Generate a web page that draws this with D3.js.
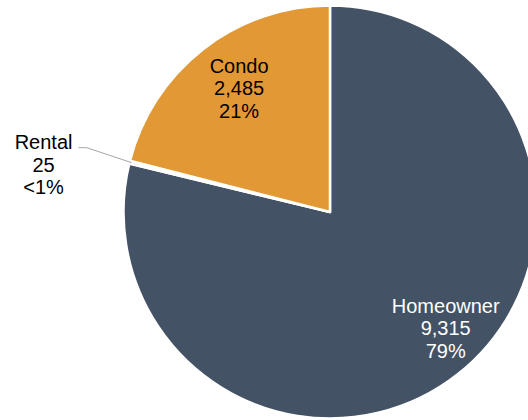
<!DOCTYPE html>
<html>
<head>
<meta charset="utf-8">
<script src="https://cdn.jsdelivr.net/npm/d3@7.9.0/dist/d3.min.js"></script>
<style>
  body { margin: 0; background: #fff; }
  svg { display: block; font-family: "Liberation Sans", Arial, sans-serif; }
</style>
</head>
<body>
<svg id="chart" width="528" height="420"></svg>
<script>
// data
const categories = ["Homeowner", "Rental", "Condo"];
const counts = [9315, 25, 2485];
const pctLabels = ["79%", "<1%", "21%"];
const colors = ["#435265", "#a5a5a5", "#e29935"];
const textColors = ["#ffffff", "#000000", "#000000"];

const data = categories.map((c, i) => ({ label: c, value: counts[i], pct: pctLabels[i] }));

const W = 528, H = 420;
const cx = 330, cy = 212, R = 206.5;

const svg = d3.select("#chart");
const g = svg.append("g").attr("transform", `translate(${cx},${cy})`);

const pie = d3.pie().sort(null).value(d => d.value);
const arcs = pie(data);

const arcGen = d3.arc().innerRadius(0).outerRadius(R);
const labelArc = d3.arc().innerRadius(158).outerRadius(158);
const edgeArc = d3.arc().innerRadius(R - 2).outerRadius(R - 2);

g.selectAll("path.slice")
  .data(arcs)
  .join("path")
  .attr("class", "slice")
  .attr("d", arcGen)
  .attr("fill", (d, i) => colors[i])
  .attr("stroke", "#fff")
  .attr("stroke-width", 2.5)
  .attr("stroke-linejoin", "round");

// label nudges (layout only)
const nudge = { Homeowner: [18, -1], Condo: [6, 8] };
const fmt = d3.format(",");
const lineH = 22.5;

function drawLabel(x, y, d, i) {
  const t = g.append("text")
    .attr("text-anchor", "middle")
    .attr("font-size", 20)
    .attr("fill", textColors[i]);
  [d.data.label, fmt(d.data.value), d.data.pct].forEach((s, k) => {
    t.append("tspan").attr("x", x).attr("y", y + (k - 1) * lineH).text(s);
  });
}

arcs.forEach((d, i) => {
  if (d.data.label === "Rental") {
    // leader line from slice edge
    const p1 = edgeArc.centroid(d);
    const p2 = [p1[0] - 45, p1[1] - 15];
    const p3 = [p2[0] - 8, p2[1]];
    g.append("polyline")
      .attr("points", [p1, p2, p3].map(p => p.join(",")).join(" "))
      .attr("fill", "none")
      .attr("stroke", "#a6a6a6")
      .attr("stroke-width", 1);
    drawLabel(p3[0] - 35, p3[1] + 24, d, i);
  } else {
    const c = labelArc.centroid(d);
    const n = nudge[d.data.label] || [0, 0];
    drawLabel(c[0] + n[0], c[1] + n[1], d, i);
  }
});
</script>
</body>
</html>
